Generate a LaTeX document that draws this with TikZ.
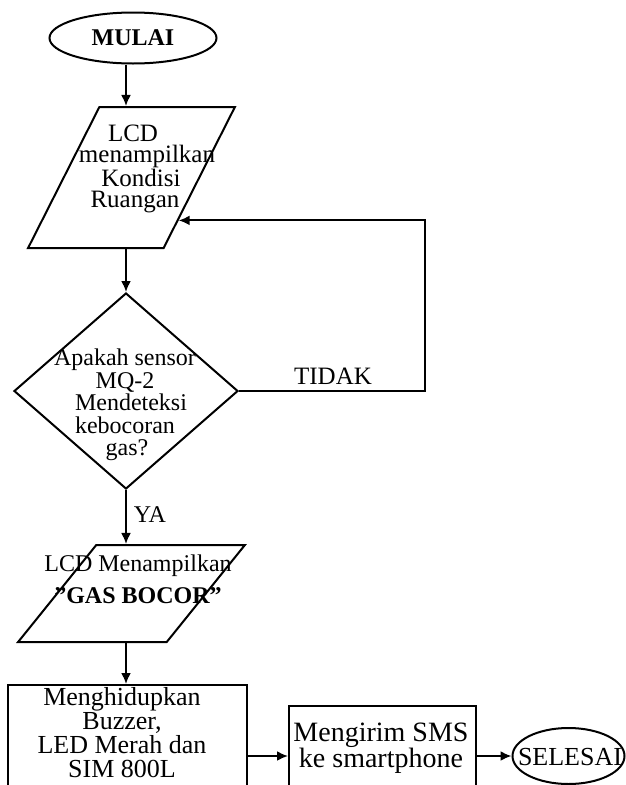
\documentclass[tikz,border=0pt]{standalone}
\usepackage{fontspec}
\setmainfont{Liberation Serif}
\usetikzlibrary{shapes.geometric,arrows.meta,calc}

\tikzset{
  flowline/.style={line width=2pt},
  arr/.style={flowline,-{Latex[length=11pt,width=10pt]}},
  term/.style={draw,flowline,ellipse,inner sep=0pt},
  io/.style={draw,flowline,trapezium,trapezium stretches=true,
    trapezium left angle=74.5,trapezium right angle=105.5,inner sep=2pt},
  proc/.style={draw,flowline,rectangle,inner sep=0pt},
  decision/.style={draw,flowline,diamond,inner sep=0pt},
  txt/.style={align=center,inner sep=0pt,font=\fontsize{24}{20}\selectfont}
}

\begin{document}
\begin{tikzpicture}[x=1pt,y=-1pt]
\useasboundingbox (0,0) rectangle (626,785);
\clip (0,0) rectangle (626,785);

\node[term,minimum width=167pt,minimum height=51pt,font=\bfseries\fontsize{24}{24}\selectfont] (mulai) at (133,38) {MULAI};

\node[io,minimum width=207pt,minimum height=141pt] (lcda) at (131.5,177.5) {\strut};
\node[txt,font=\fontsize{25}{21.5}\selectfont] (lcdatxt) at (141,169) {LCD\hspace*{16pt}\\\hspace*{12pt}menampilkan\\Kondisi\hspace*{22pt}\\Ruangan\hspace*{12pt}};

\node[decision,minimum width=224pt,minimum height=196pt] (cek) at (126,391) {};
\node[txt,font=\fontsize{24}{22.5}\selectfont] (cektxt) at (125,405) {Apakah sensor\\MQ-2\hspace*{8pt}\\\hspace*{12pt}Mendeteksi\\kebocoran\\\hspace*{4pt}gas?};

\node[io,minimum width=227pt,minimum height=97pt] (lcdb) at (131.5,593.5) {\strut};
\node[txt,font=\fontsize{24}{32}\selectfont] (lcdbtxt) at (138,579) {LCD Menampilkan\\\textbf{”GAS BOCOR”}};

\node[proc,minimum width=239pt,minimum height=120pt] (buzz) at (127.5,745) {};
\node[txt,font=\fontsize{26}{24}\selectfont] (buzztxt) at (122,733) {Menghidupkan\\Buzzer,\\LED Merah dan\\SIM 800L};

\node[proc,minimum width=187pt,minimum height=100pt] (sms) at (382.5,756) {};
\node[txt,font=\fontsize{28}{24}\selectfont] (smstxt) at (381,748) {Mengirim SMS\\ke smartphone};

\node[term,minimum width=112pt,minimum height=56pt] (selesai) at (568.5,756) {};
\node[txt,font=\fontsize{26}{26}\selectfont] (selesaitxt) at (570,757) {SELESAI};

\node[txt,font=\fontsize{25}{25}\selectfont] (tidak) at (333,376) {TIDAK};
\node[txt] (ya) at (150,515) {YA};

\coordinate (belok) at (425,391);

\draw[arr] (mulai.south -| cek.north) -- (lcda.north -| cek.north);
\draw[arr] (lcda.south -| cek.north) -- (cek.north);
\draw[arr] (cek.east) -- (belok) |- ($(lcda.top right corner)!0.8!(lcda.bottom right corner)$);
\draw[arr] (cek.south) -- (lcdb.north -| cek.south);
\draw[arr] (lcdb.south -| cek.south) -- (buzz.north -| cek.south);
\draw[arr] (sms.west -| buzz.east) -- (sms.west);
\draw[arr] (sms.east) -- (selesai.west);
\end{tikzpicture}
\end{document}
